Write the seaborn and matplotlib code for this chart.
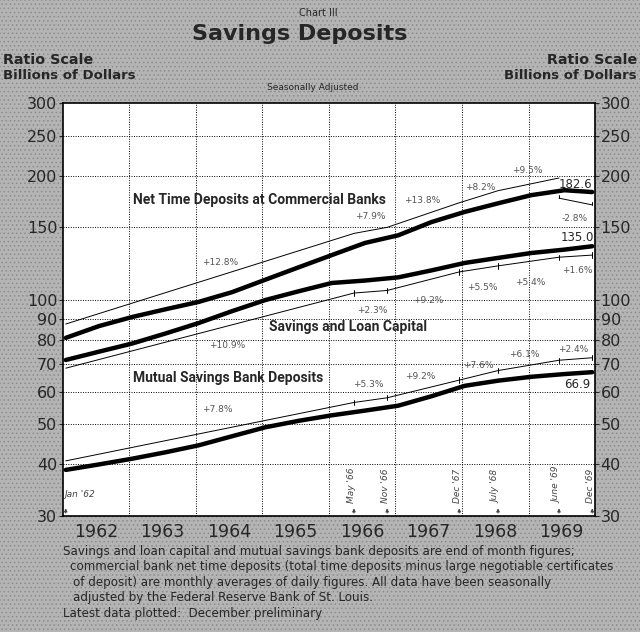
import matplotlib
matplotlib.use('Agg')
import matplotlib.pyplot as plt
from matplotlib.patches import Rectangle
import seaborn as sns
import pandas as pd

# half-year readings (billions of dollars, ratio scale)
months = ['1962-01', '1962-07', '1963-01', '1963-07', '1964-01', '1964-07',
          '1965-01', '1965-07', '1966-01', '1966-07', '1967-01', '1967-07',
          '1968-01', '1968-07', '1969-01', '1969-07', '1969-12']
net_time = [81, 86.5, 91, 95, 99, 104.5, 112, 120, 128.5, 137.5, 143.5,
            154.5, 163.5, 171.5, 179.5, 184.5, 182.6]
sl_capital = [71.6, 75, 78.5, 83, 88, 94, 100, 105, 110, 111.5, 113.5,
              118, 123, 126.5, 130, 132.5, 135.0]
mutual = [38.8, 40, 41.3, 42.8, 44.5, 46.8, 49.2, 51, 52.6, 54.0, 55.5,
          58.5, 62, 63.8, 65.2, 66.2, 66.9]

# trend lines between the marked dates
break_months = ['1962-01', '1966-05', '1966-11', '1967-12', '1968-07', '1969-06', '1969-12']
net_trend = [87.5, 145, 150, 172, 184, 197.5]
net_trend_last = [176.5, 170]
sl_trend = [68.4, 104, 105.5, 117, 121, 127, 128.5]
mutual_trend = [40.8, 56.5, 58, 64, 67.5, 71.5, 72.5]
net_rates = ['+12.8%', '+7.9%', '+13.8%', '+8.2%', '+9.5%', '-2.8%']
sl_rates = ['+10.9%', '+2.3%', '+9.2%', '+5.5%', '+5.4%', '+1.6%']
mutual_rates = ['+7.8%', '+5.3%', '+9.2%', '+7.6%', '+6.1%', '+2.4%']
event_labels = ["Jan '62", "May '66", "Nov '66", "Dec '67", "July '68", "June '69", "Dec '69"]

years = [1962, 1963, 1964, 1965, 1966, 1967, 1968, 1969]
y_ticks = [30, 40, 50, 60, 70, 80, 90, 100, 150, 200, 250, 300]


def to_dec(m):
    yr, mo = m.split('-')
    return int(yr) + (int(mo) - 0.5) / 12


df = pd.DataFrame({'date': [to_dec(m) for m in months],
                   'net': net_time, 'sl': sl_capital, 'mutual': mutual})
bx = [to_dec(m) for m in break_months]

bg = '#b4b4b4'
sns.set_style('white')
plt.rcParams['font.family'] = ['DejaVu Sans']
plt.rcParams['hatch.color'] = '#8c8c8c'
plt.rcParams['hatch.linewidth'] = 0.6

fig = plt.figure(figsize=(6.4, 6.32), dpi=100, facecolor=bg)
fig.patches.append(Rectangle((0, 0), 1, 1, transform=fig.transFigure, facecolor=bg,
                             edgecolor='#8c8c8c', hatch='....', linewidth=0, zorder=-5))
ax = fig.add_axes([0.0984, 0.1835, 0.8313, 0.6535])
ax.set_facecolor('white')

for col in ['net', 'sl', 'mutual']:
    sns.lineplot(data=df, x='date', y=col, ax=ax, color='black', linewidth=3.2)

thin = dict(color='black', linewidth=0.7)
ax.plot(bx[:6], net_trend, **thin)
ax.plot(bx[5:], net_trend_last, **thin)
ax.plot(bx, sl_trend, **thin)
ax.plot(bx, mutual_trend, **thin)
# small end ticks linking trend segments
for i, x in enumerate(bx[1:], start=1):
    for tr in [sl_trend, mutual_trend]:
        v = tr[i]
        ax.plot([x, x], [v * 0.985, v * 1.015], **thin)
ax.plot([bx[5], bx[5]], [net_trend_last[0], net_trend_last[0] * 1.015], **thin)
ax.plot([bx[6], bx[6]], [net_trend_last[1], net_trend_last[1] * 1.015], **thin)

ax.set_yscale('log')
ax.set_xlim(1962, 1970)
ax.set_ylim(30, 300)
ax.set_xlabel('')
ax.set_ylabel('')

ax.set_yticks(y_ticks)
ax.set_yticklabels([str(t) for t in y_ticks])
ax.minorticks_off()
ax.tick_params(axis='y', which='both', labelsize=11.5, length=3, width=0.8, pad=1,
               direction='out', left=True, right=True, labelleft=True, labelright=True)
ax.set_xticks([y + 0.5 for y in years])
ax.set_xticklabels([str(y) for y in years], fontsize=12.5)
ax.tick_params(axis='x', length=0, pad=5)

for t in y_ticks[1:-1]:
    ax.axhline(t, color='black', linewidth=0.7, linestyle=(0, (1, 1.5)))
for y in years[1:]:
    ax.axvline(y, color='black', linewidth=0.7, linestyle=(0, (1, 1.5)))
for s in ax.spines.values():
    s.set_color('black')
    s.set_linewidth(1.2)

# rate labels placed at segment middles
pct = dict(fontsize=6.5, color='#555555', ha='center', va='center')
net_pos = [(1964.36, 123), (1966.62, 159.7), (1967.40, 174.6), (1968.27, 187.8), (1968.98, 206), (1969.70, 158)]
sl_pos = [(1964.47, 77.8), (1966.65, 94.6), (1967.49, 100), (1968.30, 107.5), (1969.02, 110.6), (1969.74, 118.2)]
mu_pos = [(1964.32, 54.2), (1966.59, 62.3), (1967.37, 65.4), (1968.24, 69.6), (1968.93, 74), (1969.67, 76)]
for labels, pos in [(net_rates, net_pos), (sl_rates, sl_pos), (mutual_rates, mu_pos)]:
    for lab, (x, y) in zip(labels, pos):
        ax.text(x, y, lab, **pct)

ax.text(1969.70, 190, f'{net_time[-1]:.1f}', fontsize=8.5, ha='center', va='center')
ax.text(1969.74, 142, f'{sl_capital[-1]:.1f}', fontsize=8.5, ha='center', va='center')
ax.text(1969.74, 62.3, f'{mutual[-1]:.1f}', fontsize=8.5, ha='center', va='center')

lab = dict(fontsize=10, fontweight='bold', family=['Roboto', 'DejaVu Sans'],
           ha='center', va='center')
ax.text(1964.96, 174.6, 'Net Time Deposits at Commercial Banks', **lab)
ax.text(1966.29, 86, 'Savings and Loan Capital', **lab)
ax.text(1964.48, 64.8, 'Mutual Savings Bank Deposits', **lab)

# event markers at bottom
for i, (x, lab_e) in enumerate(zip(bx, event_labels)):
    ax.annotate('', xy=(x, 31.8), xytext=(x, 30),
                arrowprops=dict(arrowstyle='-|>', color='#444444', lw=0.6, mutation_scale=5))
    if i == 0:
        ax.text(x - 0.02, 33.0, lab_e, fontsize=6.5, style='italic', color='#444444', ha='left', va='bottom')
    else:
        ax.text(x - 0.03, 32.2, lab_e, fontsize=6.5, style='italic', color='#444444',
                rotation=90, ha='center', va='bottom')

fig.text(0.497, 0.979, 'Chart III', fontsize=7, ha='center', va='center')
fig.text(0.469, 0.946, 'Savings Deposits', fontsize=16, fontweight='bold', ha='center', va='center')
fig.text(0.005, 0.905, 'Ratio Scale', fontsize=10.3, fontweight='bold', ha='left', va='center')
fig.text(0.005, 0.880, 'Billions of Dollars', fontsize=9.5, fontweight='bold', ha='left', va='center')
fig.text(0.995, 0.905, 'Ratio Scale', fontsize=10.3, fontweight='bold', ha='right', va='center')
fig.text(0.995, 0.880, 'Billions of Dollars', fontsize=9.5, fontweight='bold', ha='right', va='center')
fig.text(0.488, 0.862, 'Seasonally Adjusted', fontsize=6.5, ha='center', va='center')

notes = [
    (0.098, 'Savings and loan capital and mutual savings bank deposits are end of month figures;'),
    (0.110, 'commercial bank net time deposits (total time deposits minus large negotiable certificates'),
    (0.114, 'of deposit) are monthly averages of daily figures. All data have been seasonally'),
    (0.114, 'adjusted by the Federal Reserve Bank of St. Louis.'),
    (0.098, 'Latest data plotted:  December preliminary'),
]
for i, (x, line) in enumerate(notes):
    fig.text(x, 0.128 - i * 0.0245, line, fontsize=8.6, ha='left', va='center')

plt.savefig('out.png', dpi=100, facecolor=bg)
